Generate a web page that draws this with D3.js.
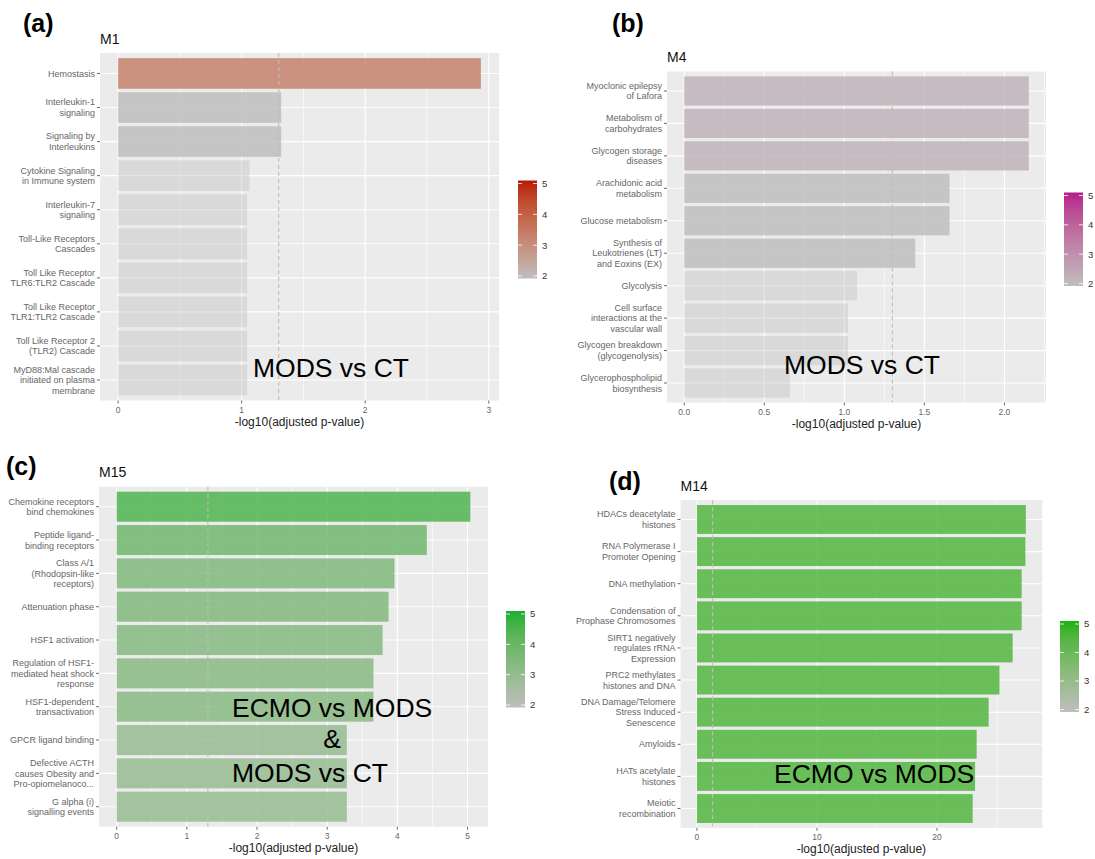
<!DOCTYPE html>
<html>
<head>
<meta charset="utf-8">
<script src="https://cdn.jsdelivr.net/npm/d3@7"></script>
<style>
  body { margin: 0; background: #fff; }
  svg { font-family: "Liberation Sans", Arial, sans-serif; display: block; }
</style>
</head>
<body>
<div class="chart"></div>
<script>
// Data, one set of arrays per module (terms top to bottom)
var m1Terms = ["Hemostasis", "Interleukin-1\nsignaling", "Signaling by\nInterleukins",
    "Cytokine Signaling\nin Immune system", "Interleukin-7\nsignaling", "Toll-Like Receptors\nCascades",
    "Toll Like Receptor\nTLR6:TLR2 Cascade", "Toll Like Receptor\nTLR1:TLR2 Cascade",
    "Toll Like Receptor 2\n(TLR2) Cascade", "MyD88:Mal cascade\ninitiated on plasma\nmembrane"];
var m1Values = [2.936, 1.32, 1.32, 1.063, 1.044, 1.044, 1.044, 1.044, 1.044, 1.044];
var m1Fill = [3.3, 2, 2, 2, 2, 2, 2, 2, 2, 2];
var m1Ticks = [0, 1, 2, 3];

var m4Terms = ["Myoclonic epilepsy\nof Lafora", "Metabolism of\ncarbohydrates", "Glycogen storage\ndiseases",
    "Arachidonic acid\nmetabolism", "Glucose metabolism", "Synthesis of\nLeukotrienes (LT)\nand Eoxins (EX)",
    "Glycolysis", "Cell surface\ninteractions at the\nvascular wall", "Glycogen breakdown\n(glycogenolysis)",
    "Glycerophospholipid\nbiosynthesis"];
var m4Values = [2.152, 2.152, 2.152, 1.657, 1.657, 1.443, 1.079, 1.023, 1.023, 0.661];
var m4Fill = [2.25, 2.25, 2.25, 2, 2, 2, 2, 2, 2, 2];
var m4Ticks = [0, 0.5, 1, 1.5, 2];

var m15Terms = ["Chemokine receptors\nbind chemokines", "Peptide ligand-\nbinding receptors",
    "Class A/1\n(Rhodopsin-like\nreceptors)", "Attenuation phase", "HSF1 activation",
    "Regulation of HSF1-\nmediated heat shock\nresponse", "HSF1-dependent\ntransactivation",
    "GPCR ligand binding", "Defective ACTH\ncauses Obesity and\nPro-opiomelanoco...",
    "G alpha (i)\nsignalling events"];
var m15Values = [5.04, 4.42, 3.96, 3.875, 3.79, 3.66, 3.66, 3.28, 3.28, 3.28];
var m15Fill = [4.4, 3.8, 3.5, 3.45, 3.35, 3.3, 3.3, 3.0, 3.0, 3.0];
var m15Ticks = [0, 1, 2, 3, 4, 5];

var m14Terms = ["HDACs deacetylate\nhistones", "RNA Polymerase I\nPromoter Opening", "DNA methylation",
    "Condensation of\nProphase Chromosomes", "SIRT1 negatively\nregulates rRNA\nExpression",
    "PRC2 methylates\nhistones and DNA", "DNA Damage/Telomere\nStress Induced\nSenescence",
    "Amyloids", "HATs acetylate\nhistones", "Meiotic\nrecombination"];
var m14Values = [27.4, 27.36, 27.05, 27.05, 26.3, 25.2, 24.3, 23.3, 23.17, 22.97];
var m14Fill = [4.4, 4.4, 4.4, 4.4, 4.4, 4.4, 4.4, 4.4, 4.4, 4.4];
var m14Ticks = [0, 10, 20];

var legendTicks = [2, 3, 4, 5];
var THRESHOLD = 1.3; // -log10(0.05)
var AXIS_TITLE = "-log10(adjusted p-value)";

var svg = d3.select(".chart").append("svg")
    .attr("width", 1095)
    .attr("height", 859);

svg.append("rect").attr("width", 1095).attr("height", 859).attr("fill", "#fff");

var panels = [
    { tag: "(a)", tagX: 23, tagY: 32, title: "M1", terms: m1Terms, values: m1Values, fill: m1Fill,
      ticks: m1Ticks, fmt: d3.format("d"), high: "#B71A05",
      box: { left: 100, right: 499, top: 53, bottom: 400.5 },
      legend: { x: 518, top: 180.5, bottom: 278.5 },
      notes: [{ text: "MODS vs CT", x: 253, y: 377, anchor: "start" }] },
    { tag: "(b)", tagX: 612, tagY: 32, title: "M4", terms: m4Terms, values: m4Values, fill: m4Fill,
      ticks: m4Ticks, fmt: d3.format(".1f"), high: "#B51D8B",
      box: { left: 667, right: 1046, top: 71.5, bottom: 402.5 },
      legend: { x: 1064, top: 192.5, bottom: 286 },
      notes: [{ text: "MODS vs CT", x: 784, y: 374, anchor: "start" }] },
    { tag: "(c)", tagX: 6, tagY: 475, title: "M15", terms: m15Terms, values: m15Values, fill: m15Fill,
      ticks: m15Ticks, fmt: d3.format("d"), high: "#14B030",
      box: { left: 99, right: 488, top: 486.7, bottom: 826.7 },
      legend: { x: 506, top: 611, bottom: 707.5 },
      notes: [{ text: "ECMO vs MODS", x: 232, y: 717, anchor: "start" },
              { text: "&", x: 332, y: 748, anchor: "middle" },
              { text: "MODS vs CT", x: 232, y: 782, anchor: "start" }] },
    { tag: "(d)", tagX: 609, tagY: 490, title: "M14", terms: m14Terms, values: m14Values, fill: m14Fill,
      ticks: m14Ticks, fmt: d3.format("d"), high: "#1BB20E",
      box: { left: 680.5, right: 1042.3, top: 500.2, bottom: 827.8 },
      legend: { x: 1060, top: 621, bottom: 712 },
      notes: [{ text: "ECMO vs MODS", x: 774, y: 783, anchor: "start" }] }
];

panels.forEach(function(p, pi) {
    var b = p.box;
    var maxV = d3.max(p.values);
    var g = svg.append("g");

    var x = d3.scaleLinear()
        .domain([-0.05 * maxV, 1.05 * maxV])
        .range([b.left, b.right]);
    var y = d3.scaleBand()
        .domain(p.terms)
        .range([b.top, b.bottom])
        .paddingInner(0.1)
        .paddingOuter(0.15);
    var color = d3.scaleLinear()
        .domain([2, 5])
        .range(["#BEBEBE", p.high])
        .interpolate(d3.interpolateLab)
        .clamp(true);

    // panel background
    g.append("rect")
        .attr("x", b.left).attr("y", b.top)
        .attr("width", b.right - b.left).attr("height", b.bottom - b.top)
        .attr("fill", "#EBEBEB");

    // minor grid between the major ticks
    var step = p.ticks[1] - p.ticks[0];
    var minor = [];
    for (var i = -1; i < p.ticks.length; ++i) {
        var m = p.ticks[0] + step * (i + 0.5);
        if (m > x.domain()[0] && m < x.domain()[1]) minor.push(m);
    }
    g.selectAll(".minor").data(minor).enter().append("line")
        .attr("x1", function(d) { return x(d); }).attr("x2", function(d) { return x(d); })
        .attr("y1", b.top).attr("y2", b.bottom)
        .attr("stroke", "#fff").attr("stroke-width", 0.6);

    g.selectAll(".majorx").data(p.ticks).enter().append("line")
        .attr("x1", function(d) { return x(d); }).attr("x2", function(d) { return x(d); })
        .attr("y1", b.top).attr("y2", b.bottom)
        .attr("stroke", "#fff").attr("stroke-width", 1.1);

    g.selectAll(".majory").data(p.terms).enter().append("line")
        .attr("x1", b.left).attr("x2", b.right)
        .attr("y1", function(d) { return y(d) + y.bandwidth() / 2; })
        .attr("y2", function(d) { return y(d) + y.bandwidth() / 2; })
        .attr("stroke", "#fff").attr("stroke-width", 1.1);

    // bars; the non-significant ones are faded
    g.selectAll(".bar").data(p.terms).enter().append("rect")
        .attr("x", x(0))
        .attr("y", function(d) { return y(d); })
        .attr("width", function(d, i) { return x(p.values[i]) - x(0); })
        .attr("height", y.bandwidth())
        .attr("fill", function(d, i) { return color(p.fill[i]); })
        .attr("fill-opacity", function(d, i) { return p.values[i] < THRESHOLD ? 0.4 : 0.85; });

    // significance line
    g.append("line")
        .attr("x1", x(THRESHOLD)).attr("x2", x(THRESHOLD))
        .attr("y1", b.top).attr("y2", b.bottom)
        .attr("stroke", "#BDBDBD").attr("stroke-width", 1.1)
        .attr("stroke-dasharray", "4,3");

    // annotation text
    p.notes.forEach(function(n) {
        g.append("text")
            .attr("x", n.x).attr("y", n.y)
            .attr("text-anchor", n.anchor)
            .attr("font-size", 26.5)
            .attr("fill", "#000")
            .text(n.text);
    });

    // x axis
    var xa = g.selectAll(".xtick").data(p.ticks).enter().append("g")
        .attr("transform", function(d) { return "translate(" + x(d) + "," + b.bottom + ")"; });
    xa.append("line").attr("y1", 0).attr("y2", 3).attr("stroke", "#444").attr("stroke-width", 0.8);
    xa.append("text")
        .attr("y", 12).attr("text-anchor", "middle")
        .attr("font-size", 8.5).attr("fill", "#666")
        .text(function(d) { return p.fmt(d); });

    g.append("text")
        .attr("x", (b.left + b.right) / 2).attr("y", b.bottom + 25)
        .attr("text-anchor", "middle")
        .attr("font-size", 12).attr("fill", "#222")
        .text(AXIS_TITLE);

    // y axis
    var ya = g.selectAll(".ytick").data(p.terms).enter().append("g")
        .attr("transform", function(d) { return "translate(" + b.left + "," + (y(d) + y.bandwidth() / 2) + ")"; });
    ya.append("line").attr("x1", -3).attr("x2", 0).attr("stroke", "#444").attr("stroke-width", 0.8);
    ya.append("text")
        .attr("text-anchor", "end")
        .attr("font-size", 9).attr("fill", "#666")
        .each(function(d) {
            var lines = d.split("\n");
            var t = d3.select(this);
            lines.forEach(function(l, k) {
                t.append("tspan")
                    .attr("x", -5)
                    .attr("y", (k - (lines.length - 1) / 2) * 10.6 + 3.2)
                    .text(l);
            });
        });

    // panel title and tag
    g.append("text")
        .attr("x", b.left).attr("y", b.top - 9.5)
        .attr("font-size", 14).attr("fill", "#111")
        .text(p.title);
    g.append("text")
        .attr("x", p.tagX).attr("y", p.tagY)
        .attr("font-size", 25).attr("font-weight", "bold").attr("fill", "#000")
        .text(p.tag);

    // colour bar legend
    var L = p.legend;
    var lw = 19;
    var gradId = "grad" + pi;
    var grad = svg.append("defs").append("linearGradient")
        .attr("id", gradId)
        .attr("x1", 0).attr("x2", 0).attr("y1", 1).attr("y2", 0);
    d3.range(0, 1.0001, 0.1).forEach(function(t) {
        grad.append("stop")
            .attr("offset", t)
            .attr("stop-color", color(2 + 3 * t));
    });
    g.append("rect")
        .attr("x", L.x).attr("y", L.top)
        .attr("width", lw).attr("height", L.bottom - L.top)
        .attr("fill", "url(#" + gradId + ")");
    var ly = d3.scaleLinear().domain([2, 5]).range([L.bottom - 2.5, L.top + 3]);
    var lt = g.selectAll(".ltick").data(legendTicks).enter().append("g")
        .attr("transform", function(d) { return "translate(" + L.x + "," + ly(d) + ")"; });
    lt.append("line").attr("x1", 0).attr("x2", 4).attr("stroke", "#fff").attr("stroke-width", 0.8);
    lt.append("line").attr("x1", lw - 4).attr("x2", lw).attr("stroke", "#fff").attr("stroke-width", 0.8);
    lt.append("text")
        .attr("x", lw + 5).attr("y", 3.4)
        .attr("font-size", 9.5).attr("fill", "#333")
        .text(function(d) { return d; });
});
</script>
</body>
</html>
